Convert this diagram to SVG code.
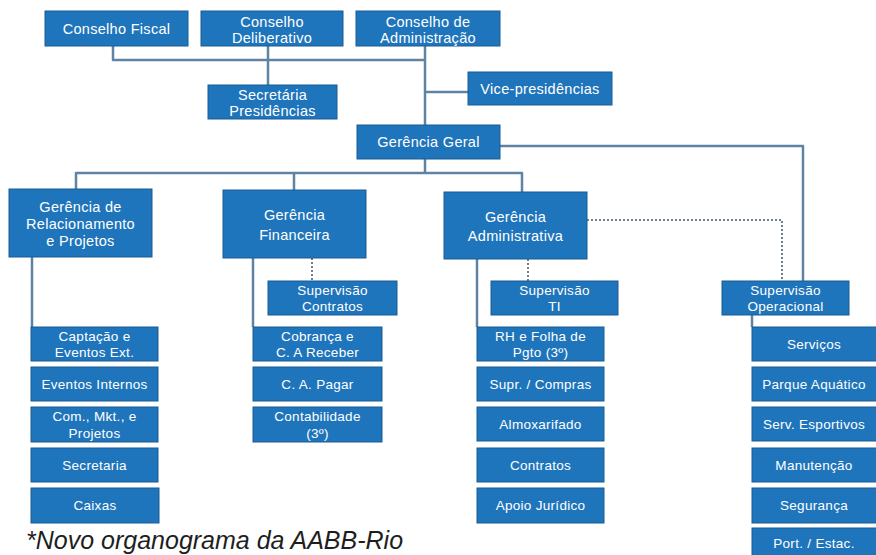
<svg xmlns="http://www.w3.org/2000/svg" width="876" height="555" viewBox="0 0 876 555">
<style>
.b{fill:#1f75bb;stroke:#1a5c93;stroke-width:1}
.t{font-family:"Liberation Sans",Arial,sans-serif;font-size:14.5px;letter-spacing:0.3px;fill:#ffffff;text-anchor:middle}
.s{font-family:"Liberation Sans",Arial,sans-serif;font-size:13.5px;letter-spacing:0.3px;fill:#ffffff;text-anchor:middle}
.l{fill:none;stroke:#5f84a3;stroke-width:2.5;stroke-linejoin:round}
.d{fill:none;stroke:#6f7f8c;stroke-width:2;stroke-dasharray:2 2}
</style>
<rect width="876" height="555" fill="#ffffff"/>
<g id="connectors">
<path class="l" d="M113,46 V60 H425"/>
<path class="l" d="M268,46 V85"/>
<path class="l" d="M425,46 V125"/>
<path class="l" d="M425,92 H468"/>
<path class="l" d="M425,159 V173"/>
<path class="l" d="M76,189 V173 H522 V192"/>
<path class="l" d="M294,173 V190"/>
<path class="l" d="M500,146 H803 V281"/>
<path class="l" d="M32,257 V327"/>
<path class="l" d="M253,258 V327"/>
<path class="l" d="M477,259 V327"/>
<path class="l" d="M752,315 V327"/>
<path class="d" d="M312,258 V281"/>
<path class="d" d="M528,259 V281"/>
<path class="d" d="M587,220 H782 V281"/>
</g>
<g id="conselho-fiscal"><rect class="b" x="45" y="11" width="143" height="35"/><text class="t" x="116.5" y="33.5">Conselho Fiscal</text></g>
<g id="conselho-deliberativo"><rect class="b" x="201" y="11" width="142" height="35"/><text class="t" x="272" y="26.5">Conselho</text><text class="t" x="272" y="43">Deliberativo</text></g>
<g id="conselho-administracao"><rect class="b" x="356" y="11" width="144" height="35"/><text class="t" x="428" y="26.5">Conselho de</text><text class="t" x="428" y="43">Administração</text></g>
<g id="secretaria-presidencias"><rect class="b" x="208" y="85" width="129" height="34"/><text class="t" x="272.5" y="99.5">Secretária</text><text class="t" x="272.5" y="115.5">Presidências</text></g>
<g id="vice-presidencias"><rect class="b" x="468" y="72" width="144" height="33"/><text class="t" x="540" y="93.5">Vice-presidências</text></g>
<g id="gerencia-geral"><rect class="b" x="357" y="125" width="143" height="34"/><text class="t" x="428.5" y="147">Gerência Geral</text></g>
<g id="gerencia-relacionamento"><rect class="b" x="9" y="189" width="143" height="68"/><text class="t" x="80.5" y="212">Gerência de</text><text class="t" x="80.5" y="229">Relacionamento</text><text class="t" x="80.5" y="246">e Projetos</text></g>
<g id="gerencia-financeira"><rect class="b" x="223" y="190" width="143" height="68"/><text class="t" x="294.5" y="220">Gerência</text><text class="t" x="294.5" y="240">Financeira</text></g>
<g id="gerencia-administrativa"><rect class="b" x="444" y="192" width="143" height="67"/><text class="t" x="515.5" y="221.5">Gerência</text><text class="t" x="515.5" y="240.5">Administrativa</text></g>
<g id="supervisao-contratos"><rect class="b" x="268" y="281" width="129" height="34"/><text class="s" x="332.5" y="294.5">Supervisão</text><text class="s" x="332.5" y="311">Contratos</text></g>
<g id="supervisao-ti"><rect class="b" x="491" y="281" width="127" height="34"/><text class="s" x="554.5" y="294.5">Supervisão</text><text class="s" x="554.5" y="311">TI</text></g>
<g id="supervisao-operacional"><rect class="b" x="722" y="281" width="127" height="34"/><text class="s" x="785.5" y="294.5">Supervisão</text><text class="s" x="785.5" y="311">Operacional</text></g>
<g id="captacao"><rect class="b" x="31" y="327" width="127" height="34"/><text class="s" x="94.5" y="341">Captação e</text><text class="s" x="94.5" y="357">Eventos Ext.</text></g>
<g id="eventos-internos"><rect class="b" x="31" y="367" width="127" height="34"/><text class="s" x="94.5" y="389">Eventos Internos</text></g>
<g id="com-mkt"><rect class="b" x="31" y="407" width="127" height="35"/><text class="s" x="94.5" y="421">Com., Mkt., e</text><text class="s" x="94.5" y="437.5">Projetos</text></g>
<g id="secretaria"><rect class="b" x="31" y="448" width="127" height="34"/><text class="s" x="94.5" y="470">Secretaria</text></g>
<g id="caixas"><rect class="b" x="31" y="488" width="128" height="35"/><text class="s" x="95" y="510">Caixas</text></g>
<g id="cobranca"><rect class="b" x="253" y="327" width="129" height="34"/><text class="s" x="317.5" y="341">Cobrança e</text><text class="s" x="317.5" y="357">C. A Receber</text></g>
<g id="ca-pagar"><rect class="b" x="253" y="367" width="129" height="34"/><text class="s" x="317.5" y="389">C. A. Pagar</text></g>
<g id="contabilidade"><rect class="b" x="253" y="407" width="129" height="35"/><text class="s" x="317.5" y="421">Contabilidade</text><text class="s" x="317.5" y="437.5">(3º)</text></g>
<g id="rh-folha"><rect class="b" x="477" y="327" width="127" height="34"/><text class="s" x="540.5" y="341">RH e Folha de</text><text class="s" x="540.5" y="357">Pgto (3º)</text></g>
<g id="supr-compras"><rect class="b" x="477" y="367" width="127" height="34"/><text class="s" x="540.5" y="389">Supr. / Compras</text></g>
<g id="almoxarifado"><rect class="b" x="477" y="407" width="127" height="34"/><text class="s" x="540.5" y="429">Almoxarifado</text></g>
<g id="contratos"><rect class="b" x="477" y="448" width="127" height="34"/><text class="s" x="540.5" y="470">Contratos</text></g>
<g id="apoio-juridico"><rect class="b" x="477" y="488" width="127" height="35"/><text class="s" x="540.5" y="510">Apoio Jurídico</text></g>
<g id="servicos"><rect class="b" x="752" y="327" width="126" height="34"/><text class="s" x="814" y="349">Serviços</text></g>
<g id="parque-aquatico"><rect class="b" x="752" y="367" width="126" height="34"/><text class="s" x="814" y="389">Parque Aquático</text></g>
<g id="serv-esportivos"><rect class="b" x="752" y="407" width="126" height="34"/><text class="s" x="814" y="429">Serv. Esportivos</text></g>
<g id="manutencao"><rect class="b" x="752" y="448" width="126" height="34"/><text class="s" x="814" y="470">Manutenção</text></g>
<g id="seguranca"><rect class="b" x="752" y="488" width="126" height="35"/><text class="s" x="814" y="510">Segurança</text></g>
<g id="port-estac"><rect class="b" x="752" y="528" width="126" height="34"/><text class="s" x="814" y="548">Port. / Estac.</text></g>
<text x="26" y="549" font-family="'Liberation Sans',Arial,sans-serif" font-size="25" font-style="italic" fill="#1e1e1e">*Novo organograma da AABB-Rio</text>
</svg>
